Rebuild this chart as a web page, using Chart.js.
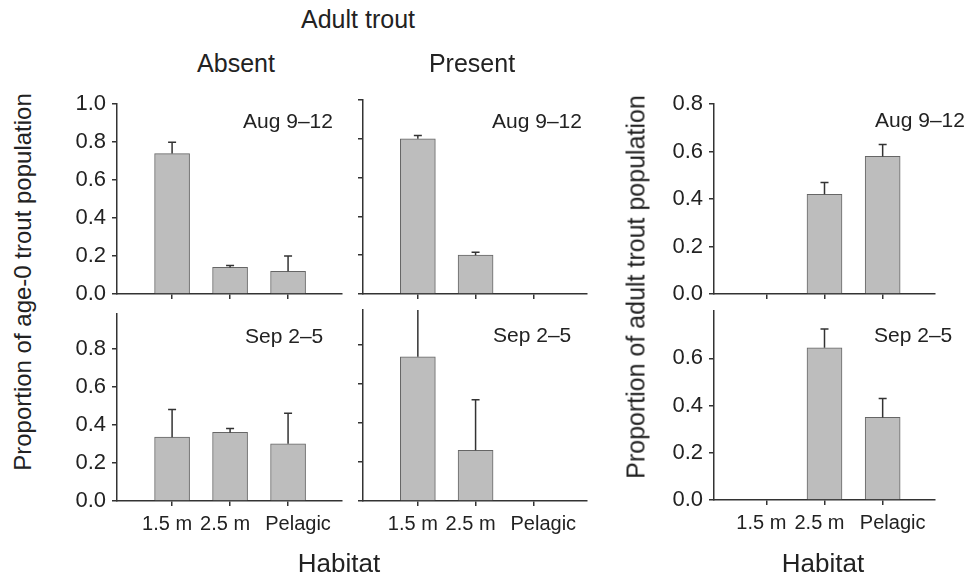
<!DOCTYPE html>
<html>
<head>
<meta charset="utf-8">
<script src="https://cdn.jsdelivr.net/npm/chart.js@4.4.1/dist/chart.umd.min.js"></script>
<style>
    body { margin: 0; background: #fff; width: 967px; height: 578px; position: relative; overflow: hidden;
           font-family: "Liberation Sans", Arial, sans-serif; color: #222; }
    .panel { position: absolute; }
    .lbl { position: absolute; white-space: nowrap; line-height: 1; }
</style>
</head>
<body>
<script>
// tick labels are padded a little so they sit like the original's
let habitats = ["1.5 m\u2002", "2.5 m\u2002", "\u2003Pelagic"];
let habitatPos = [1, 2, 3];

// age-0 trout, adult trout absent / present
let absentAug = [0.74, 0.14, 0.12];
let absentAugErr = [0.06, 0.01, 0.08];
let presentAug = [0.80, 0.20, null];
let presentAugErr = [0.017, 0.015, null];
let absentSep = [0.335, 0.36, 0.30];
let absentSepErr = [0.145, 0.02, 0.16];
let presentSep = [0.74, 0.26, null];
let presentSepErr = [0.30, 0.26, null];

// adult trout
let adultAug = [null, 0.42, 0.58];
let adultAugErr = [null, 0.05, 0.05];
let adultSep = [null, 0.645, 0.35];
let adultSepErr = [null, 0.08, 0.08];

let ticksAge0Aug = [0, 0.2, 0.4, 0.6, 0.8, 1.0];
let ticksAge0Sep = [0, 0.2, 0.4, 0.6, 0.8];
let ticksAdultAug = [0, 0.2, 0.4, 0.6, 0.8];
let ticksAdultSep = [0, 0.2, 0.4, 0.6];

const FONT = "'Liberation Sans', Arial, sans-serif";
const INK = "#333";

const errorBars = {
    id: "errorBars",
    afterDatasetsDraw(chart) {
        let ctx = chart.ctx;
        let yScale = chart.scales.y;
        let area = chart.chartArea;
        chart.data.datasets.forEach((ds, di) => {
            chart.getDatasetMeta(di).data.forEach((bar, i) => {
                let v = ds.data[i].y, e = ds.errors[i];
                if (v == null || e == null) return;
                let top = yScale.getPixelForValue(v + e);
                ctx.save();
                ctx.beginPath();
                ctx.rect(area.left - 10, area.top, area.width + 20, area.height);
                ctx.clip();
                ctx.strokeStyle = INK;
                ctx.lineWidth = 1.5;
                ctx.beginPath();
                ctx.moveTo(bar.x, bar.y);
                ctx.lineTo(bar.x, top);
                ctx.moveTo(bar.x - 4, top);
                ctx.lineTo(bar.x + 4, top);
                ctx.stroke();
                ctx.restore();
            });
        });
    }
};

function makePanel(area, values, errors, yMax, yTicks, showY, showX) {
    let div = document.createElement("div");
    div.className = "panel";
    div.style.left = (area.l - 70) + "px";
    div.style.top = (area.t - 15) + "px";
    div.style.width = (area.r - area.l + 80) + "px";
    div.style.height = (area.b - area.t + 60) + "px";
    let canvas = document.createElement("canvas");
    div.appendChild(canvas);
    document.body.appendChild(div);

    new Chart(canvas, {
        type: "bar",
        data: {
            datasets: [{
                data: habitatPos.map((x, i) => ({ x, y: values[i] })),
                errors,
                backgroundColor: "#bdbdbd",
                borderColor: "#666",
                borderWidth: 1,
                barThickness: 35
            }]
        },
        options: {
            responsive: true,
            maintainAspectRatio: false,
            animation: false,
            events: [],
            layout: { autoPadding: false, padding: { top: 15, right: 10, left: 0, bottom: 0 } },
            plugins: { legend: { display: false }, tooltip: { enabled: false } },
            scales: {
                x: {
                    type: "linear",
                    min: area.xMin,
                    max: area.xMax,
                    offset: false,
                    afterBuildTicks: axis => { axis.ticks = habitatPos.map(v => ({ value: v })); },
                    afterFit: s => { s.height = 45; },
                    border: { display: true, color: INK, width: 1.5 },
                    grid: { display: true, offset: false, drawOnChartArea: false, drawTicks: true, tickLength: 5, color: INK, lineWidth: 1.5 },
                    ticks: {
                        display: showX,
                        padding: 6,
                        maxRotation: 0,
                        autoSkip: false,
                        color: "#222",
                        font: { family: FONT, size: 20 },
                        callback: v => habitats[habitatPos.indexOf(v)]
                    }
                },
                y: {
                    min: 0,
                    max: yMax,
                    afterBuildTicks: axis => { axis.ticks = yTicks.map(v => ({ value: v })); },
                    afterFit: s => { s.width = 70; },
                    border: { display: true, color: INK, width: 1.5 },
                    grid: { display: true, drawOnChartArea: false, drawTicks: true, tickLength: 5, color: INK, lineWidth: 1.5 },
                    ticks: {
                        display: showY,
                        padding: 6,
                        color: "#222",
                        font: { family: FONT, size: 22 },
                        callback: v => v.toFixed(1)
                    }
                }
            }
        },
        plugins: [errorBars]
    });
}

function label(text, x, baseline, size, align, rotate) {
    let d = document.createElement("div");
    d.className = "lbl";
    d.textContent = text;
    d.style.fontSize = size + "px";
    if (rotate) {
        d.style.left = x + "px";
        d.style.top = baseline + "px";
        d.style.transform = "translate(-50%, -50%) rotate(-90deg)";
    } else {
        d.style.top = (baseline - 0.85 * size) + "px";
        d.style.left = x + "px";
        if (align === "center") d.style.transform = "translateX(-50%)";
    }
    document.body.appendChild(d);
}

makePanel({ l: 117, r: 342, t: 100, b: 294, xMin: 0.05, xMax: 3.93 }, absentAug, absentAugErr, 1.0, ticksAge0Aug, true, false);
makePanel({ l: 117, r: 342, t: 310, b: 501, xMin: 0.05, xMax: 3.93 }, absentSep, absentSepErr, 0.98, ticksAge0Sep, true, true);
makePanel({ l: 363, r: 587, t: 100, b: 294, xMin: 0.05, xMax: 3.93 }, presentAug, presentAugErr, 1.0, ticksAge0Aug, false, false);
makePanel({ l: 363, r: 587, t: 310, b: 501, xMin: 0.05, xMax: 3.93 }, presentSep, presentSepErr, 0.98, ticksAge0Sep, false, true);
makePanel({ l: 714, r: 935, t: 100, b: 294, xMin: 0.1, xMax: 3.9 }, adultAug, adultAugErr, 0.8, ticksAdultAug, true, false);
makePanel({ l: 714, r: 935, t: 307, b: 500, xMin: 0.1, xMax: 3.9 }, adultSep, adultSepErr, 0.8, ticksAdultSep, true, true);

label("Adult trout", 358, 28, 25, "center");
label("Absent", 236, 72, 25, "center");
label("Present", 472, 72, 25, "center");
label("Aug 9–12", 243, 128, 21);
label("Aug 9–12", 492, 128, 21);
label("Aug 9–12", 875, 127, 21);
label("Sep 2–5", 245, 343, 21);
label("Sep 2–5", 493, 342, 21);
label("Sep 2–5", 874, 342, 21);
label("Habitat", 339, 572, 26, "center");
label("Habitat", 823, 572, 26, "center");
label("Proportion of age-0 trout population", 23, 282, 24, "center", true);
label("Proportion of adult trout population", 636, 287, 25, "center", true);
</script>
</body>
</html>
